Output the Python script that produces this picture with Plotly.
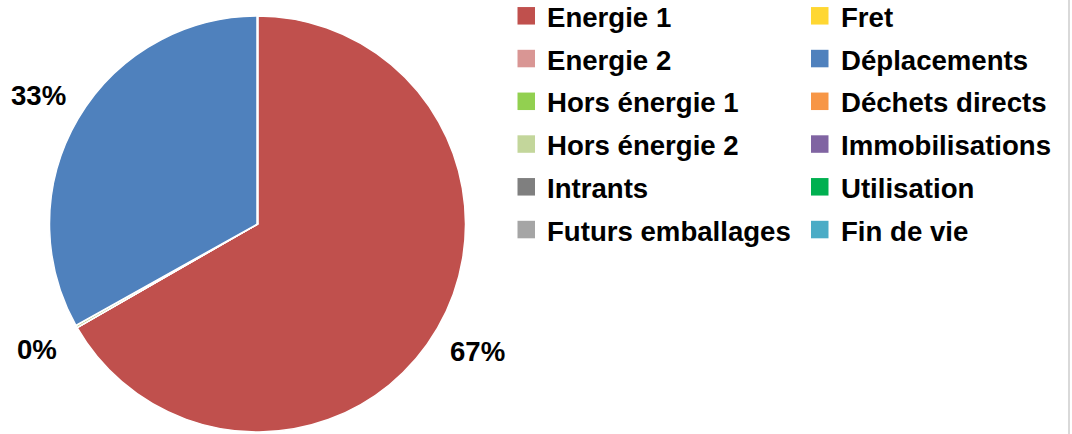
import math
import plotly.graph_objects as go

# ---- data ----
categories = ["Energie 1", "Energie 2", "Hors énergie 1", "Hors énergie 2", "Intrants",
              "Futurs emballages", "Fret", "Déplacements", "Déchets directs",
              "Immobilisations", "Utilisation", "Fin de vie"]
values = [66.7, 0, 0, 0.2, 0, 0, 0, 33.1, 0, 0, 0, 0]
colors = ["#C0504D", "#D99694", "#92D050", "#C3D69B", "#7F7F7F", "#A5A5A5",
          "#FFD732", "#4F81BD", "#F79646", "#8064A2", "#00B050", "#4BACC6"]

W, H = 1072, 434
CX, CY, R = 257.5, 224.0, 208.0   # pie centre / radius in pixels


def px(x):
    return x / W


def py(y):
    return 1 - y / H


fig = go.Figure()
fig.add_trace(go.Pie(
    labels=categories, values=values, sort=False, direction="clockwise", rotation=0,
    marker=dict(colors=colors, line=dict(color="white", width=1.5)),
    textinfo="none", hoverinfo="label+percent", showlegend=False,
    domain=dict(x=[px(CX - R), px(CX + R)], y=[py(CY + R), py(CY - R)]),
))

annotations = []
shapes = []
lab_font = dict(family="Liberation Sans", size=27.6, color="black", weight="bold")

# percentage labels, placed outside along each slice's mid-angle
total = sum(values)
cum = 0.0
for v in values:
    if v > 0:
        mid = (cum + v / 2) / total
        ang = math.radians(90 - 360 * mid)
        rr = 1.22 * R
        annotations.append(dict(
            x=px(CX), y=py(CY), xref="paper", yref="paper",
            xshift=rr * math.cos(ang), yshift=rr * math.sin(ang),
            text=f"{round(100 * v / total)}%", showarrow=False,
            xanchor="center", yanchor="middle", font=lab_font))
    cum += v

# two-column legend
col_x = [517.5, 811.0]
row_y0, row_dy, sq = 15.8, 42.75, 17.5
for i, (name, c) in enumerate(zip(categories, colors)):
    col, row = divmod(i, 6)
    x0 = col_x[col]
    yc = row_y0 + row * row_dy
    shapes.append(dict(type="rect", xref="paper", yref="paper",
                       x0=px(x0), x1=px(x0 + sq), y0=py(yc - sq / 2), y1=py(yc + sq / 2),
                       fillcolor=c, line=dict(width=0)))
    annotations.append(dict(x=px(x0 + sq + 10), y=py(yc + 1.5), xref="paper", yref="paper",
                            text=name, showarrow=False, xanchor="left", yanchor="middle",
                            font=lab_font))

# light chart-area edge at right
shapes.append(dict(type="line", xref="paper", yref="paper", x0=px(1069), x1=px(1069),
                   y0=0, y1=1, line=dict(color="#D9D9D9", width=2)))

fig.update_layout(width=W, height=H, margin=dict(l=0, r=0, t=0, b=0),
                  paper_bgcolor="white", plot_bgcolor="white",
                  annotations=annotations, shapes=shapes)

fig.write_html("out.html")
